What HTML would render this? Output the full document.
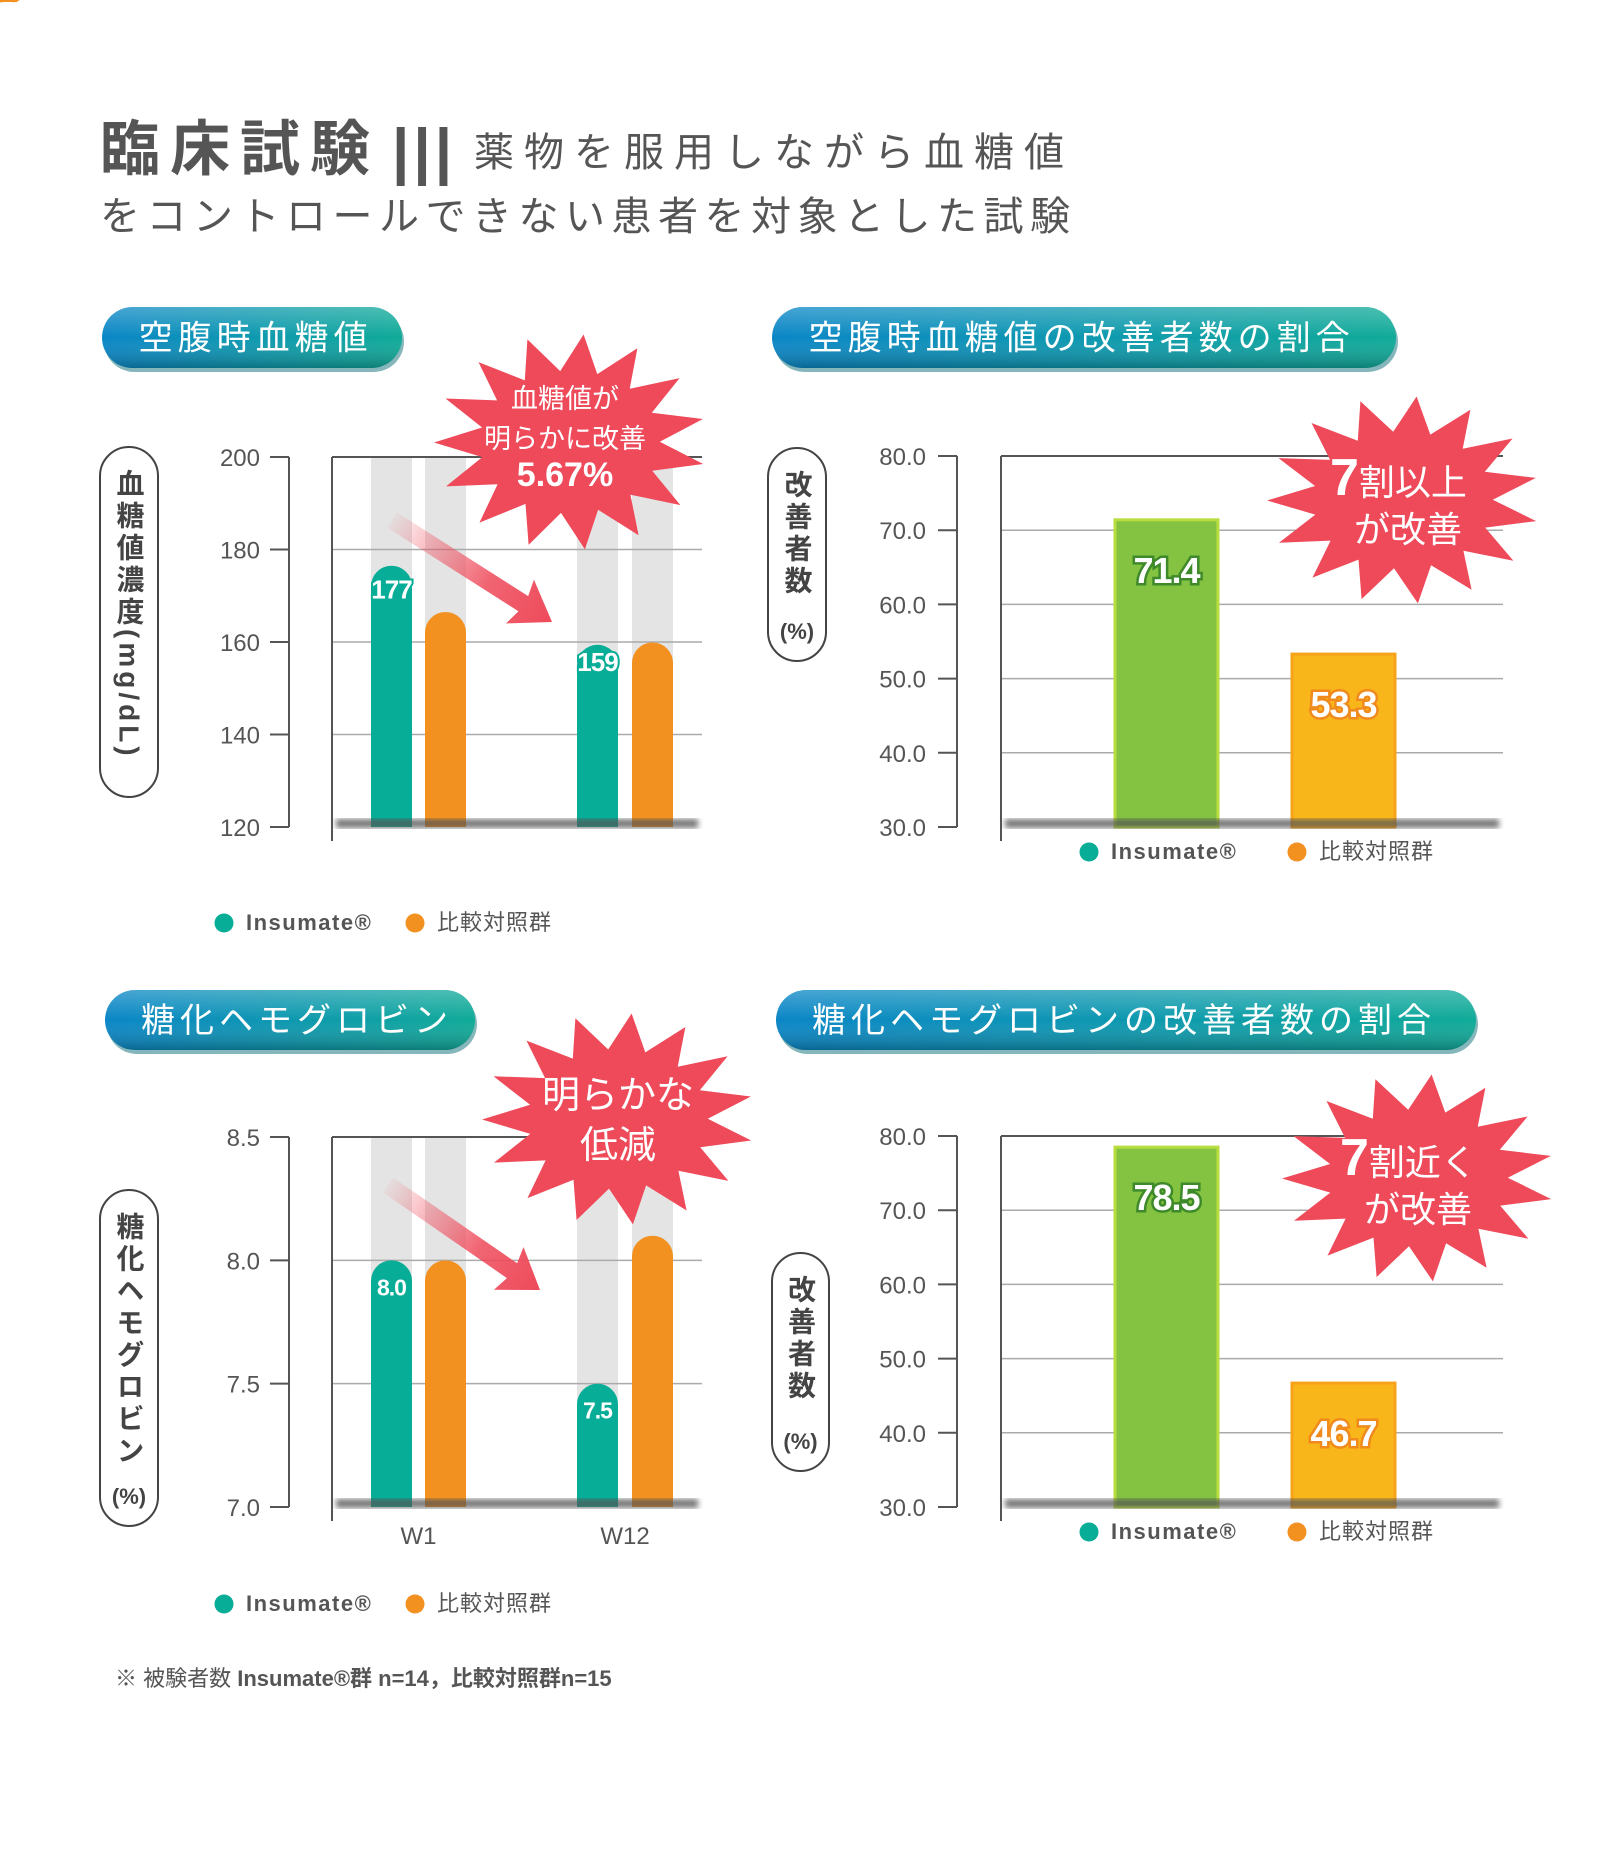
<!DOCTYPE html>
<html><head><meta charset="utf-8">
<style>
html,body{margin:0;padding:0;background:#fff;}
svg{display:block;font-family:"Liberation Sans","Noto Sans CJK JP",sans-serif;}
</style></head>
<body>
<svg id="page" width="1600" height="1857" viewBox="0 0 1600 1857" xmlns="http://www.w3.org/2000/svg">
<defs>
<linearGradient id="pillGrad" x1="0" y1="0" x2="1" y2="0">
<stop offset="0" stop-color="#0a86c6"/><stop offset="1" stop-color="#10aa98"/>
</linearGradient>
<linearGradient id="pillShade" x1="0" y1="0" x2="0" y2="1">
<stop offset="0" stop-color="#fff" stop-opacity="0.25"/><stop offset="0.5" stop-color="#fff" stop-opacity="0"/><stop offset="1" stop-color="#000" stop-opacity="0.25"/>
</linearGradient>
<linearGradient id="arrowGrad" x1="0" y1="0" x2="1" y2="0">
<stop offset="0" stop-color="#ee4a5a" stop-opacity="0.05"/><stop offset="0.6" stop-color="#ee4a5a" stop-opacity="0.85"/><stop offset="1" stop-color="#ee4a5a"/>
</linearGradient>
<filter id="blur3"><feGaussianBlur stdDeviation="3"/></filter>
</defs>
<g fill="#555">
<text x="100" y="170" font-size="60" font-weight="bold" letter-spacing="10">臨床試験</text>
<text x="392" y="172" font-size="62" font-weight="bold" letter-spacing="4">|||</text>
<text x="474" y="166" font-size="40" letter-spacing="10">薬物を服用しながら血糖値</text>
<text x="100" y="230" font-size="40" letter-spacing="6.5">をコントロールできない患者を対象とした試験</text>
</g>
<text x="115" y="1686" font-size="22" fill="#555">※ 被験者数 <tspan font-weight="bold">Insumate®群 n=14，比較対照群n=15</tspan></text>
</svg>
<script>
const NS="http://www.w3.org/2000/svg";
const svg=document.getElementById('page');
function mk(tag,attrs,parent,text){const e=document.createElementNS(NS,tag);for(const k in attrs)e.setAttribute(k,attrs[k]);if(text!==undefined)e.textContent=text;(parent||svg).appendChild(e);return e;}

// ---- data ----
const groups=["W1","W12"];
const fbgInsumate=[176.5,159.4];
const fbgControl=[166.5,159.9];
const fbgTicks=[120,140,160,180,200];
const hbaInsumate=[8.0,7.5];
const hbaControl=[8.0,8.1];
const hbaTicks=[7.0,7.5,8.0,8.5];
const fbgRateCats=["Insumate®","比較対照群"];
const fbgRateValues=[71.4,53.3];
const hbaRateValues=[78.5,46.7];
const rateTicks=[30.0,40.0,50.0,60.0,70.0,80.0];
const seriesNames=["Insumate®","比較対照群"];

const TEAL="#07ad96",ORANGE="#f39120",GREEN="#84c341",YEL="#f9b61a";

function pill(x,y,w,h,label,name){
  const g=mk('g',{});
  
  
  mk('rect',{x:x+2,y:y+4,width:w,height:h,rx:h/2,fill:'#0a6d78',opacity:0.5},g);
  mk('rect',{x:x,y:y,width:w,height:h,rx:h/2,fill:'url(#pillGrad)'},g);
  mk('rect',{x:x,y:y,width:w,height:h,rx:h/2,fill:'url(#pillShade)'},g);
  const t=mk('text',{x:x+h*0.6,y:y+h/2+12,'font-size':34,fill:'#fff','letter-spacing':5},g,label);
  
  
}
function starburst(cx,cy,rx,ry,lines,name){
  const g=mk('g',{});
  
  
  const n=15;let pts=[];
  for(let i=0;i<n*2;i++){const a=-Math.PI/2+i*Math.PI/n+0.1;const r=i%2?0.66:1;pts.push((cx+Math.cos(a)*rx*r).toFixed(1)+','+(cy+Math.sin(a)*ry*r).toFixed(1));}
  mk('polygon',{points:pts.join(' '),fill:'#ee4a5a'},g);
  lines.forEach(l=>{const t=mk('text',{x:l.x,y:l.y,'font-size':l.fs,fill:'#fff','text-anchor':l.anchor||'middle','font-weight':l.bold?'bold':'normal'},g);
    l.parts.forEach(p=>{const ts=mk('tspan',p.fs?{'font-size':p.fs,'font-weight':p.bold?'bold':'normal'}:{},t,p.t);});});
}
function yPill(x,y,w,h,vert,bottomText,name){
  const g=mk('g',{});
  
  
  mk('rect',{x:x,y:y,width:w,height:h,rx:w/2,fill:'#fff',stroke:'#444','stroke-width':2},g);
  const t=mk('text',{x:x+w/2,y:y+22,'font-size':28,'font-weight':'bold',fill:'#444',style:'writing-mode:vertical-rl','letter-spacing':4},g,vert);
  if(bottomText){mk('text',{x:x+w/2,y:y+h-22,'font-size':22,fill:'#444','text-anchor':'middle','font-weight':'bold'},g,bottomText);}
}
function legend(y,xs,name){
  const g=mk('g',{});
  
  
  const cols=[TEAL,ORANGE];
  seriesNames.forEach((s,i)=>{
    const e=mk('g',{},g);
    
    
    mk('circle',{cx:xs[i],cy:y-7,r:9.5,fill:cols[i]},e);
    mk('text',{x:xs[i]+22,y:y,'font-size':22,fill:'#555','font-weight':i?'normal':'bold','letter-spacing':i?1:1.5},e,s);
  });
}
function axisLeft(ticks,min,max,top,bot,axX,labX,fmt,plotL,plotR,name){
  const y=v=>bot-(v-min)/(max-min)*(bot-top);
  const g=mk('g',{});
  
  
  mk('line',{x1:axX,y1:top,x2:axX,y2:bot,stroke:'#555','stroke-width':2},g);
  ticks.forEach(v=>{
    mk('line',{x1:axX-19,y1:y(v),x2:axX,y2:y(v),stroke:'#555','stroke-width':2},g);
    const t=mk('text',{x:labX,y:y(v)+9,'font-size':24,fill:'#555','text-anchor':'end'},g,fmt(v));
    
    
    if(v!==min&&v!==max){const gl=mk('line',{x1:plotL,y1:y(v),x2:plotR,y2:y(v),stroke:'#aaa','stroke-width':1.5});}
  });
  mk('line',{x1:plotL,y1:top,x2:plotR,y2:top,stroke:'#555','stroke-width':2});
  mk('line',{x1:plotL,y1:top,x2:plotL,y2:bot+14,stroke:'#555','stroke-width':2});
  return y;
}
function shadow(l,r,bot){mk('rect',{x:l+4,y:bot-8,width:r-l-8,height:9,fill:'#555',filter:'url(#blur3)',opacity:0.8});}

function roundedBar(x,w,yTop,yBot,fill,name){
  const r=w/2;
  const h=yBot-yTop;
  const d=h>r?`M${x},${yBot} L${x},${yTop+r} A${r},${r} 0 0 1 ${x+w},${yTop+r} L${x+w},${yBot} Z`:`M${x},${yBot} L${x+w},${yBot} Z`;
  const p=mk('path',{d:d,fill:fill});
  
  
}
function valLabel(x,y,txt,stroke,fs,name){
  const t=mk('text',{x:x,y:y,'font-size':fs,'font-weight':'bold',fill:'#fff',stroke:stroke,'stroke-width':4,'paint-order':'stroke','text-anchor':'middle','letter-spacing':-1},svg,txt);
  
  
}
function groupedChart(off,ins,ctl,ticks,min,max,fmt,labOff,lfs,prefix,showX){
  const top=457+off,bot=827+off,plotL=332,plotR=702;
  const barX=[[371,425],[577,632]],bw=41;
  barX.forEach(pair=>pair.forEach(x=>{const c=mk('rect',{x:x,y:top,width:bw,height:bot-top,fill:'#e4e4e4'});}));
  const y=axisLeft(ticks,min,max,top,bot,289,260,fmt,plotL,plotR,prefix+'-y-axis');
  groups.forEach((gname,i)=>{
    roundedBar(barX[i][0],bw,y(ins[i]),bot,TEAL,prefix+'-bar-insumate-'+gname);
    roundedBar(barX[i][1],bw,y(ctl[i]),bot,ORANGE,prefix+'-bar-control-'+gname);
  });
  shadow(plotL,plotR,bot);
  groups.forEach((gname,i)=>{
    valLabel(barX[i][0]+bw/2+labOff[i][0],y(ins[i])+labOff[i][1],fmt(ins[i]),TEAL,lfs,prefix+'-value-insumate-'+gname);
    valLabel(barX[i][1]+bw/2+labOff[i][2],y(ctl[i])+labOff[i][3],fmt(ctl[i]),ORANGE,lfs,prefix+'-value-control-'+gname);
    if(showX){const t=mk('text',{x:(barX[i][0]+barX[i][1]+bw)/2,y:bot+37,'font-size':24,fill:'#555','text-anchor':'middle'},svg,gname);}
  });
}
function rateChart(off,vals,prefix){
  const top=456+off,bot=827+off,plotL=1001,plotR=1503;
  const y=axisLeft(rateTicks,30,80,top,bot,957,926,v=>v.toFixed(1),plotL,plotR,prefix+'-y-axis');
  const bx=[1115,1292],bw=103,cols=[[GREEN,'#b9dc3e','#3e8a2a'],[YEL,'#f7a21b','#f08a1c']];
  vals.forEach((v,i)=>{
    const r=mk('rect',{x:bx[i],y:y(v),width:bw,height:bot-y(v),fill:cols[i][0],stroke:cols[i][1],'stroke-width':3});
    
    
  });
  shadow(plotL,plotR,bot);
  vals.forEach((v,i)=>{
    const t=mk('text',{x:bx[i]+bw/2,y:y(v)+63,'font-size':36,'font-weight':'bold',fill:'#fff',stroke:cols[i][2],'stroke-width':5,'paint-order':'stroke','text-anchor':'middle','letter-spacing':-1},svg,v.toFixed(1));
    
    
  });
}
function arrow(x1,y1,x2,y2,name){
  const ang=Math.atan2(y2-y1,x2-x1)*180/Math.PI,len=Math.hypot(x2-x1,y2-y1);
  const g=mk('g',{transform:`translate(${x1},${y1}) rotate(${ang})`});
  
  
  mk('polygon',{points:`0,-9 ${len-34},-9 ${len-38},-26 ${len},0 ${len-38},26 ${len-34},9 0,9`,fill:'url(#arrowGrad)'},g);
}

// ---- top-left ----
pill(102,307,300,61,'空腹時血糖値','fasting-glucose-header');
yPill(100,447,58,350,'血糖値濃度(mg/dL)',null,'fasting-glucose-y-title');
groupedChart(0,fbgInsumate,fbgControl,fbgTicks,120,200,v=>v.toFixed(0),[[0,33],[0,26],[-1,35],[-1,10]],26,'fbg',false);
fbgTicks.length;
arrow(392,520,552,622,'decrease-arrow-fbg');
starburst(570,442,136,108,[
 {x:565,y:408,fs:27,parts:[{t:'血糖値が'}]},
 {x:565,y:448,fs:27,parts:[{t:'明らかに改善'}]},
 {x:565,y:486,fs:34,bold:true,parts:[{t:'5.67%'}]}],'callout-fbg');
legend(930,[224,415],'legend-fbg');

// ---- top-right ----
pill(772,307,624,61,'空腹時血糖値の改善者数の割合','fbg-rate-header');
yPill(768,448,58,213,'改善者数','(%)','fbg-rate-y-title');
rateChart(0,fbgRateValues,'fbg-rate');
starburst(1403,500,136,104,[
 {x:1330,y:495,fs:36,anchor:'start',parts:[{t:'7',fs:52,bold:true},{t:'割以上'}]},
 {x:1408,y:542,fs:36,parts:[{t:'が改善'}]}],'callout-fbg-rate');
legend(859,[1089,1297],'legend-fbg-rate');

// ---- bottom-left ----
pill(105,990,370,60,'糖化ヘモグロビン','hba1c-header');
yPill(100,1190,58,336,'糖化ヘモグロビン','(%)','hba1c-y-title');
groupedChart(680,hbaInsumate,hbaControl,hbaTicks,7.0,8.5,v=>v.toFixed(1),[[0,35],[0,35],[0,36],[0,48]],23,'hba1c',true);
arrow(388,1185,540,1290,'decrease-arrow-hba1c');
starburst(618,1119,136,106,[
 {x:618,y:1108,fs:38,parts:[{t:'明らかな'}]},
 {x:618,y:1158,fs:38,parts:[{t:'低減'}]}],'callout-hba1c');
legend(1611,[224,415],'legend-hba1c');

// ---- bottom-right ----
pill(776,990,700,60,'糖化ヘモグロビンの改善者数の割合','hba1c-rate-header');
yPill(772,1253,57,218,'改善者数','(%)','hba1c-rate-y-title');
rateChart(680,hbaRateValues,'hba1c-rate');
starburst(1418,1178,136,104,[
 {x:1340,y:1175,fs:36,anchor:'start',parts:[{t:'7',fs:52,bold:true},{t:'割近く'}]},
 {x:1418,y:1222,fs:36,parts:[{t:'が改善'}]}],'callout-hba1c-rate');
legend(1539,[1089,1297],'legend-hba1c-rate');
</script>
</body></html>
